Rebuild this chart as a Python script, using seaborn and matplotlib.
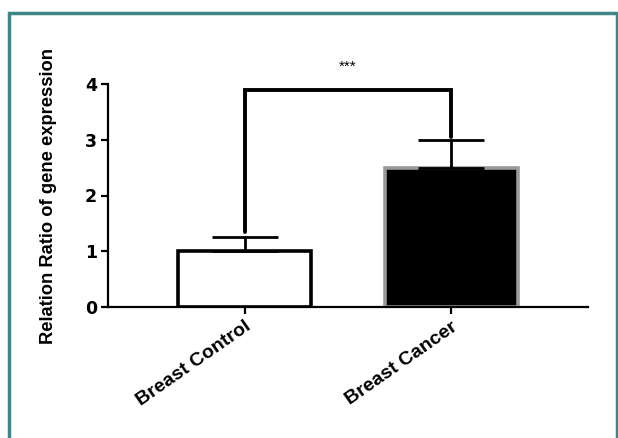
import matplotlib
matplotlib.use("Agg")
import matplotlib.pyplot as plt
import seaborn as sns
import pandas as pd
from matplotlib.patches import Rectangle

GROUPS = ["Breast Control", "Breast Cancer"]
MEANS = [1.0, 2.5]
SD = [0.25, 0.5]
BRACKET_LEFT = 1.35
BRACKET_TOP = 3.9
BRACKET_RIGHT = 3.05
STARS = "***"
Y_LABEL = "Relation Ratio of gene expression"
Y_TICKS = [0, 1, 2, 3, 4]

sns.set_style("ticks")
plt.rcParams["font.family"] = ["Liberation Sans", "DejaVu Sans"]
plt.rcParams["text.color"] = "black"
plt.rcParams["axes.labelcolor"] = "black"
plt.rcParams["xtick.color"] = "black"
plt.rcParams["ytick.color"] = "black"

df = pd.DataFrame({"group": GROUPS, "value": MEANS})

fig = plt.figure(figsize=(6.18, 4.38), dpi=100)
ax = fig.add_axes([108 / 618, 1 - 307 / 438, 480 / 618, 223 / 438])

sns.barplot(data=df, x="group", y="value", hue="group", palette=["white", "black"],
            width=0.645, errorbar=None, legend=False, ax=ax, zorder=2)
edge_cols = ["black", "#9a9a9a"]
for patch, ec in zip(ax.patches, edge_cols):
    patch.set_edgecolor(ec)
    patch.set_linewidth(2.6)

# upper SD only
ax.errorbar(range(len(GROUPS)), MEANS, yerr=[[0] * len(SD), SD], fmt="none",
            ecolor="black", elinewidth=2.0, capsize=24, capthick=2.0, zorder=3)

# significance bracket
ax.plot([0, 0, 1, 1], [BRACKET_LEFT, BRACKET_TOP, BRACKET_TOP, BRACKET_RIGHT],
        color="black", lw=2.8, solid_joinstyle="miter", zorder=4, clip_on=False)
ax.text(0.5, 4.31, STARS, ha="center", va="center", fontsize=11, color="black")

ax.set_xlim(-0.662, 1.662)
ax.set_ylim(0, 4)
ax.set_yticks(Y_TICKS)
ax.set_yticklabels([str(t) for t in Y_TICKS], fontsize=12.5, fontweight="bold",
                   family=["DejaVu Sans"])
ax.set_xticks(range(len(GROUPS)))
ax.set_xticklabels(GROUPS, rotation=35, ha="right", rotation_mode="anchor",
                   fontsize=14, fontweight="bold")
ax.set_xlabel("")
ax.set_ylabel(Y_LABEL, fontsize=13.2, fontweight="bold", labelpad=20)

for side in ["top", "right"]:
    ax.spines[side].set_visible(False)
for side in ["left", "bottom"]:
    ax.spines[side].set_linewidth(1.6)
    ax.spines[side].set_color("black")
ax.tick_params(axis="both", width=1.6, length=5, color="black", pad=3)

# teal frame around the figure
fig.patches.append(Rectangle((9 / 618, -0.05), (617 - 9) / 618, 1.05 - 13 / 438,
                             transform=fig.transFigure, fill=False,
                             edgecolor="#3f8585", linewidth=2.5))

fig.savefig("out.png", dpi=100)
